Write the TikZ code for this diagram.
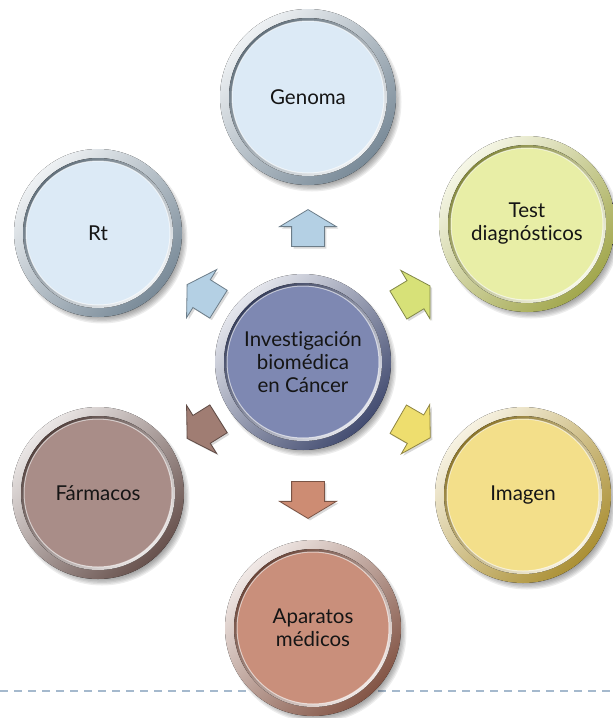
\documentclass[tikz,border=0pt]{standalone}
\usepackage{fontspec}
\setmainfont{Lato}[Ligatures=NoCommon]
\usetikzlibrary{shapes.arrows,shadows}
\definecolor{bBlue}{HTML}{DCEAF6}
\definecolor{rBlue}{HTML}{8FA3B3}
\definecolor{bTest}{HTML}{E8EEA6}
\definecolor{rTest}{HTML}{BEC45A}
\definecolor{bImg}{HTML}{F3DF8A}
\definecolor{rImg}{HTML}{C9A93E}
\definecolor{bApa}{HTML}{C98F7B}
\definecolor{rApa}{HTML}{9A6452}
\definecolor{bFar}{HTML}{A98D88}
\definecolor{rFar}{HTML}{7A605B}
\definecolor{bCen}{HTML}{7E88B2}
\definecolor{rCen}{HTML}{4F5A85}
\definecolor{aBlue}{HTML}{B4D0E4}
\definecolor{aTest}{HTML}{D7E178}
\definecolor{aImg}{HTML}{EEDE6E}
\definecolor{aApa}{HTML}{CD8C73}
\definecolor{aFar}{HTML}{A07D73}
\definecolor{txt}{HTML}{151515}
\definecolor{dashc}{HTML}{A5B9CD}
\tikzset{
  bubnode/.style={circle, inner sep=0pt, align=center, text=txt,
    font=\fontsize{20.5}{23}\selectfont},
  myarr/.style={single arrow, draw=#1!60!black, fill=#1, line width=0.8pt,
    inner xsep=0pt, inner ysep=16pt, single arrow head extend=12pt,
    single arrow tip angle=118, minimum height=37pt,
    drop shadow={opacity=0.3, shadow xshift=2pt, shadow yshift=-2pt}},
  dashline/.style={draw=dashc, line width=2pt, dash pattern=on 8pt off 6pt}
}
\newcommand{\mybub}[7]{%
  \foreach \k in {0,...,5}{\fill[black,opacity=0.07] (#2+4,#3+5) circle[radius={#4+1.5-\k*1.3}];}
  \fill[top color=#6!15!white, bottom color=#6!85!black, shading angle=45] (#2,#3) circle[radius=#4];
  \fill[top color=#6!70!black, bottom color=#6!15!white, shading angle=45] (#2,#3) circle[radius={#4-9}];
  \node[bubnode, fill=#5, minimum size={(2*#4-24)*1pt}] (#1) at (#2,#3) {#7};
  \draw[white, opacity=0.6, line width=1pt] (#2,#3) circle[radius={#4-12}];
}
\begin{document}
\begin{tikzpicture}[x=1pt,y=-1pt]
\useasboundingbox (0,0) rectangle (613,718);
\coordinate (dl) at (0,691);
\coordinate (dr) at (613,691);
\draw[dashline] (dl) -- (dr);
\mybub{gen}{308}{97}{88}{bBlue}{rBlue}{Genoma}
\mybub{rt}{98}{233}{84}{bBlue}{rBlue}{Rt}
\mybub{test}{527}{224}{88}{bTest}{rTest}{Test\\diagnósticos}
\mybub{img}{523}{495}{88}{bImg}{rImg}{Imagen}
\mybub{far}{98}{493}{86}{bFar}{rFar}{Fármacos}
\mybub{apa}{313}{628}{88}{bApa}{rApa}{Aparatos\\médicos}
\mybub{cen}{303}{362}{88}{bCen}{rCen}{Investigación\\biomédica\\en Cáncer}
\node[myarr=aBlue, rotate=90] (aG) at (308,233) {};
\node[myarr=aBlue, rotate=148] (aR) at (207,297) {};
\node[myarr=aTest, rotate=31] (aT) at (410,298) {};
\node[myarr=aImg, rotate=-30] (aI) at (410,426) {};
\node[myarr=aApa, rotate=-90] (aA) at (308,495) {};
\node[myarr=aFar, rotate=-148] (aF) at (207,426) {};
\end{tikzpicture}
\end{document}
